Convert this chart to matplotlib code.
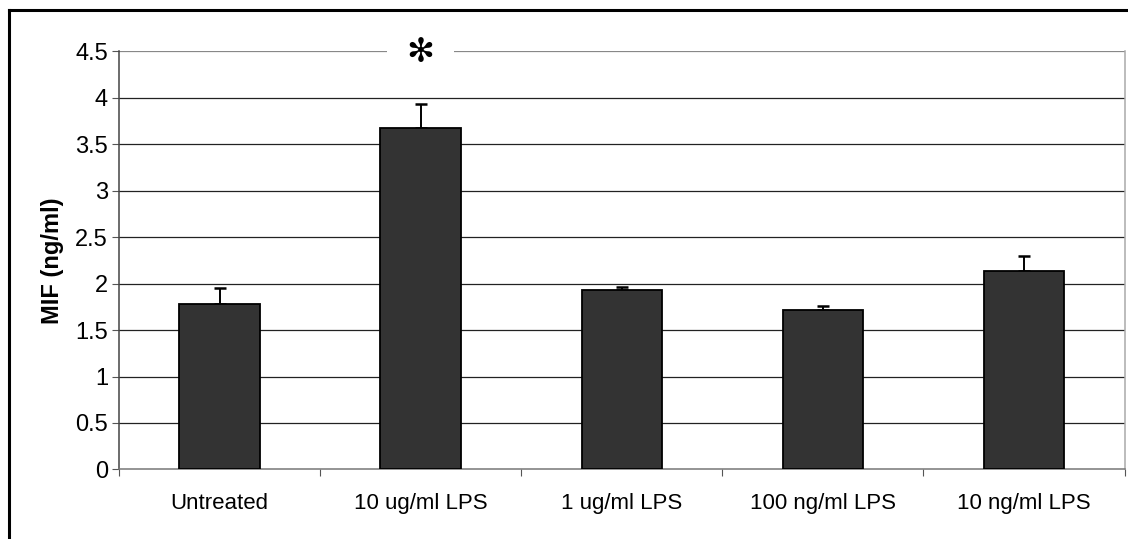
import numpy as np
import matplotlib.pyplot as plt
from matplotlib.lines import Line2D

plt.rcParams['font.family'] = ['Liberation Sans', 'DejaVu Sans']

# Datos
tratamientos = ["Untreated", "10 ug/ml LPS", "1 ug/ml LPS", "100 ng/ml LPS", "10 ng/ml LPS"]
mif = [1.78, 3.67, 1.93, 1.72, 2.14]
error_sup = [0.17, 0.26, 0.03, 0.04, 0.16]
ticks_y = [0, 0.5, 1, 1.5, 2, 2.5, 3, 3.5, 4, 4.5]

fig = plt.figure(figsize=(11.28, 5.39), dpi=100)
ax = fig.add_axes([0.1055, 0.129, 0.8915, 0.776])

x = np.arange(len(tratamientos))
ax.bar(x, mif, width=0.40, color='#333333', edgecolor='black', linewidth=1.3, zorder=3)
ax.errorbar(x, mif, yerr=[np.zeros(len(mif)), error_sup], fmt='none', ecolor='black',
            elinewidth=1.4, capsize=4.5, capthick=1.8, zorder=2)

ax.set_xlim(-0.5, len(tratamientos) - 0.5)
ax.set_ylim(0, 4.5)
ax.set_yticks(ticks_y)
ax.set_yticklabels([f"{v:g}" for v in ticks_y], fontsize=17)

# Ticks del eje x en los límites de cada categoría, etiquetas centradas
ax.set_xticks(np.arange(len(tratamientos) + 1) - 0.5)
ax.set_xticklabels([])
ax.set_xticks(x, minor=True)
ax.set_xticklabels(tratamientos, minor=True, fontsize=16)
ax.tick_params(axis='x', which='minor', length=0, pad=17)
ax.tick_params(axis='x', which='major', length=5, color='#555555', direction='out')
ax.tick_params(axis='y', length=5, color='#555555', direction='out', pad=3)

for v in ticks_y[1:]:
    ax.axhline(v, color='#222222' if v < 4.5 else '#888888', linewidth=0.9, zorder=1)

ax.spines['top'].set_visible(False)
ax.spines['left'].set_color('#444444')
ax.spines['bottom'].set_color('#777777')
ax.spines['right'].set_color('#aaaaaa')
for s in ax.spines.values():
    s.set_linewidth(1.1)

ax.set_ylabel("MIF (ng/ml)", fontsize=17, fontweight='bold', labelpad=8)

# Asterisco de significancia
ax.text(1, 4.49, "\u273B", fontsize=24, ha='center', va='center', family='DejaVu Sans',
        bbox=dict(facecolor='white', edgecolor='none', pad=14), zorder=4)

# Marco exterior
fig.add_artist(Line2D([9 / 1128, 9 / 1128], [0, 1 - 10 / 539], color='black', linewidth=2.2))
fig.add_artist(Line2D([9 / 1128, 1], [1 - 10 / 539, 1 - 10 / 539], color='black', linewidth=2.2))

fig.savefig("out.png", dpi=100)
